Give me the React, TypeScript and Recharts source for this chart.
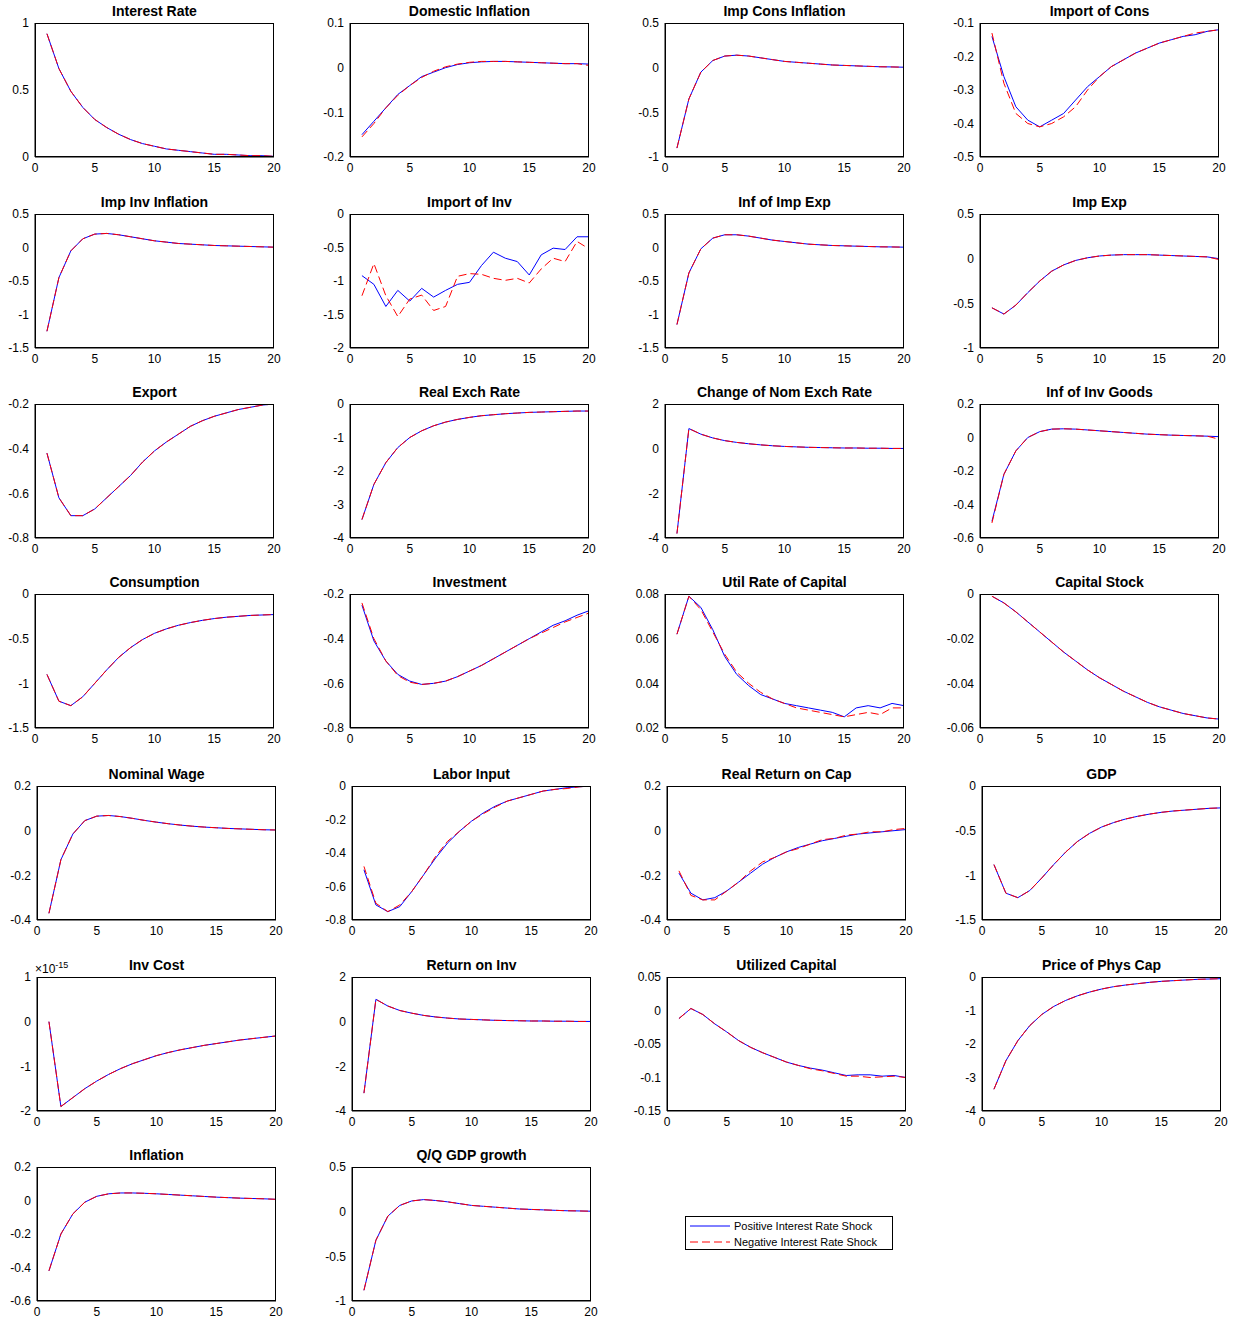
import React from 'react'
import { Line, LineChart, XAxis, YAxis } from 'recharts'

const periods = [1, 2, 3, 4, 5, 6, 7, 8, 9, 10, 11, 12, 13, 14, 15, 16, 17, 18, 19, 20]
const xTicks = [0, 5, 10, 15, 20]

const interestRate = [0.92, 0.66, 0.49, 0.37, 0.28, 0.22, 0.17, 0.13, 0.1, 0.08, 0.06, 0.05, 0.04, 0.03, 0.02, 0.02, 0.015, 0.01, 0.01, 0.005]
const domInfl = [-0.15, -0.12, -0.09, -0.06, -0.04, -0.02, -0.01, 0, 0.007, 0.011, 0.013, 0.014, 0.014, 0.013, 0.012, 0.011, 0.01, 0.009, 0.009, 0.008]
const domInflNeg = [-0.155, -0.125, -0.09, -0.062, -0.04, -0.022, -0.008, 0.002, 0.008, 0.012, 0.014, 0.014, 0.014, 0.013, 0.012, 0.011, 0.01, 0.009, 0.009, 0.005]
const impConsInfl = [-0.9, -0.35, -0.05, 0.08, 0.13, 0.14, 0.13, 0.11, 0.09, 0.07, 0.06, 0.05, 0.04, 0.03, 0.025, 0.02, 0.015, 0.01, 0.008, 0.005]
const importCons = [-0.14, -0.26, -0.35, -0.39, -0.41, -0.39, -0.37, -0.33, -0.29, -0.26, -0.23, -0.21, -0.19, -0.175, -0.16, -0.15, -0.14, -0.135, -0.125, -0.12]
const importConsNeg = [-0.13, -0.28, -0.37, -0.4, -0.41, -0.4, -0.38, -0.35, -0.3, -0.26, -0.23, -0.21, -0.19, -0.175, -0.16, -0.15, -0.14, -0.13, -0.125, -0.12]
const impInvInfl = [-1.25, -0.45, -0.05, 0.13, 0.2, 0.21, 0.19, 0.16, 0.13, 0.1, 0.08, 0.06, 0.05, 0.04, 0.03, 0.025, 0.02, 0.015, 0.01, 0.005]
const importInv = [-0.92, -1.05, -1.38, -1.14, -1.3, -1.11, -1.24, -1.14, -1.05, -1.02, -0.77, -0.57, -0.66, -0.71, -0.91, -0.61, -0.51, -0.53, -0.34, -0.34]
const importInvNeg = [-1.22, -0.74, -1.22, -1.53, -1.27, -1.21, -1.44, -1.38, -0.93, -0.89, -0.9, -0.96, -0.99, -0.96, -1.03, -0.82, -0.66, -0.71, -0.41, -0.52]
const infImpExp = [-1.15, -0.38, -0.02, 0.14, 0.19, 0.19, 0.17, 0.14, 0.11, 0.09, 0.07, 0.05, 0.04, 0.03, 0.025, 0.02, 0.015, 0.01, 0.008, 0.005]
const impExp = [-0.55, -0.62, -0.52, -0.38, -0.25, -0.14, -0.07, -0.02, 0.01, 0.03, 0.04, 0.045, 0.045, 0.045, 0.04, 0.035, 0.03, 0.025, 0.02, 0.0]
const impExpNeg = [-0.55, -0.62, -0.52, -0.38, -0.25, -0.14, -0.07, -0.02, 0.01, 0.03, 0.04, 0.045, 0.045, 0.045, 0.04, 0.035, 0.03, 0.025, 0.02, -0.01]
const exportS = [-0.42, -0.62, -0.7, -0.7, -0.67, -0.62, -0.57, -0.52, -0.46, -0.41, -0.37, -0.335, -0.3, -0.275, -0.255, -0.24, -0.225, -0.215, -0.205, -0.2]
const realExch = [-3.45, -2.4, -1.75, -1.3, -1.0, -0.8, -0.65, -0.54, -0.46, -0.4, -0.35, -0.32, -0.29, -0.27, -0.25, -0.24, -0.23, -0.22, -0.21, -0.21]
const nomExch = [-3.8, 0.9, 0.65, 0.48, 0.36, 0.28, 0.22, 0.17, 0.13, 0.1, 0.08, 0.06, 0.05, 0.04, 0.03, 0.03, 0.02, 0.02, 0.01, 0.01]
const infInvGoods = [-0.5, -0.22, -0.08, 0.0, 0.035, 0.05, 0.052, 0.05, 0.045, 0.04, 0.035, 0.03, 0.025, 0.02, 0.017, 0.014, 0.012, 0.01, 0.008, 0.005]
const infInvGoodsNeg = [-0.51, -0.22, -0.08, 0.0, 0.035, 0.05, 0.052, 0.05, 0.045, 0.04, 0.035, 0.03, 0.025, 0.02, 0.017, 0.014, 0.012, 0.01, 0.008, -0.01]
const consumption = [-0.9, -1.2, -1.25, -1.15, -1.0, -0.85, -0.71, -0.6, -0.51, -0.44, -0.39, -0.35, -0.32, -0.295, -0.275, -0.26, -0.25, -0.24, -0.235, -0.23]
const investment = [-0.25, -0.41, -0.5, -0.56, -0.59, -0.605, -0.6, -0.59, -0.57, -0.545, -0.52, -0.49, -0.46, -0.43, -0.4, -0.37, -0.34, -0.32, -0.295, -0.275]
const investmentNeg = [-0.24, -0.4, -0.5, -0.565, -0.595, -0.605, -0.6, -0.59, -0.57, -0.545, -0.52, -0.49, -0.46, -0.43, -0.4, -0.375, -0.35, -0.325, -0.305, -0.285]
const utilRate = [0.062, 0.079, 0.074, 0.064, 0.052, 0.044, 0.039, 0.035, 0.033, 0.031, 0.03, 0.029, 0.028, 0.027, 0.025, 0.029, 0.03, 0.029, 0.031, 0.03]
const utilRateNeg = [0.062, 0.079, 0.073, 0.063, 0.053, 0.045, 0.04, 0.036, 0.033, 0.031, 0.029, 0.028, 0.027, 0.026, 0.025, 0.026, 0.027, 0.026, 0.029, 0.029]
const capitalStock = [-0.001, -0.004, -0.008, -0.0125, -0.017, -0.0215, -0.026, -0.03, -0.034, -0.0375, -0.0405, -0.0435, -0.046, -0.0485, -0.0505, -0.052, -0.0535, -0.0545, -0.0555, -0.056]
const nominalWage = [-0.37, -0.13, -0.015, 0.045, 0.065, 0.068, 0.063, 0.055, 0.046, 0.038, 0.031, 0.025, 0.02, 0.016, 0.013, 0.01, 0.008, 0.006, 0.004, 0.003]
const laborInput = [-0.5, -0.71, -0.75, -0.72, -0.63, -0.53, -0.43, -0.34, -0.27, -0.21, -0.16, -0.12, -0.09, -0.07, -0.05, -0.03, -0.02, -0.01, -0.005, 0]
const laborInputNeg = [-0.48, -0.7, -0.75, -0.71, -0.63, -0.53, -0.42, -0.33, -0.27, -0.21, -0.165, -0.125, -0.09, -0.07, -0.05, -0.03, -0.02, -0.015, -0.005, 0]
const realReturn = [-0.19, -0.28, -0.31, -0.3, -0.27, -0.23, -0.19, -0.15, -0.12, -0.095, -0.075, -0.06, -0.045, -0.035, -0.025, -0.015, -0.01, -0.005, 0, 0.005]
const realReturnNeg = [-0.18, -0.29, -0.31, -0.31, -0.27, -0.23, -0.18, -0.14, -0.12, -0.095, -0.08, -0.06, -0.04, -0.035, -0.02, -0.015, -0.005, -0.005, 0.005, 0.01]
const gdp = [-0.88, -1.2, -1.25, -1.17, -1.03, -0.88, -0.74, -0.62, -0.53, -0.46, -0.41, -0.37, -0.34, -0.315, -0.295, -0.28, -0.27, -0.26, -0.25, -0.245]
const invCost = [0, -1.9, -1.7, -1.5, -1.33, -1.18, -1.05, -0.94, -0.85, -0.76, -0.69, -0.63, -0.58, -0.53, -0.49, -0.45, -0.41, -0.38, -0.35, -0.32]
const returnInv = [-3.2, 1.0, 0.7, 0.5, 0.38, 0.28, 0.21, 0.16, 0.12, 0.1, 0.08, 0.06, 0.05, 0.04, 0.03, 0.03, 0.02, 0.02, 0.01, 0.01]
const utilCapital = [-0.012, 0.003, -0.006, -0.02, -0.032, -0.045, -0.055, -0.063, -0.07, -0.077, -0.082, -0.086, -0.089, -0.093, -0.097, -0.096, -0.096, -0.098, -0.097, -0.1]
const utilCapitalNeg = [-0.012, 0.003, -0.006, -0.02, -0.032, -0.045, -0.055, -0.063, -0.07, -0.077, -0.082, -0.087, -0.09, -0.094, -0.098, -0.098, -0.1, -0.099, -0.098, -0.1]
const pricePhysCap = [-3.35, -2.5, -1.9, -1.45, -1.12, -0.88, -0.7, -0.56, -0.45, -0.36, -0.29, -0.24, -0.2, -0.16, -0.13, -0.11, -0.09, -0.07, -0.06, -0.05]
const inflation = [-0.42, -0.2, -0.08, -0.01, 0.025, 0.04, 0.045, 0.045, 0.043, 0.04, 0.036, 0.032, 0.028, 0.024, 0.02, 0.017, 0.014, 0.012, 0.01, 0.007]
const qqGdp = [-0.88, -0.32, -0.05, 0.07, 0.12, 0.135, 0.125, 0.11, 0.09, 0.07, 0.06, 0.05, 0.04, 0.03, 0.025, 0.02, 0.015, 0.01, 0.008, 0.005]

type PanelDef = { title: string; pos: number[]; neg?: number[]; yTicks: number[]; exp?: string }

const panels: PanelDef[] = [
  { title: 'Interest Rate', pos: interestRate, yTicks: [0, 0.5, 1] },
  { title: 'Domestic Inflation', pos: domInfl, neg: domInflNeg, yTicks: [-0.2, -0.1, 0, 0.1] },
  { title: 'Imp Cons Inflation', pos: impConsInfl, yTicks: [-1, -0.5, 0, 0.5] },
  { title: 'Import of Cons', pos: importCons, neg: importConsNeg, yTicks: [-0.5, -0.4, -0.3, -0.2, -0.1] },
  { title: 'Imp Inv Inflation', pos: impInvInfl, yTicks: [-1.5, -1, -0.5, 0, 0.5] },
  { title: 'Import of Inv', pos: importInv, neg: importInvNeg, yTicks: [-2, -1.5, -1, -0.5, 0] },
  { title: 'Inf of Imp Exp', pos: infImpExp, yTicks: [-1.5, -1, -0.5, 0, 0.5] },
  { title: 'Imp Exp', pos: impExp, neg: impExpNeg, yTicks: [-1, -0.5, 0, 0.5] },
  { title: 'Export', pos: exportS, yTicks: [-0.8, -0.6, -0.4, -0.2] },
  { title: 'Real Exch Rate', pos: realExch, yTicks: [-4, -3, -2, -1, 0] },
  { title: 'Change of Nom Exch Rate', pos: nomExch, yTicks: [-4, -2, 0, 2] },
  { title: 'Inf of Inv Goods', pos: infInvGoods, neg: infInvGoodsNeg, yTicks: [-0.6, -0.4, -0.2, 0, 0.2] },
  { title: 'Consumption', pos: consumption, yTicks: [-1.5, -1, -0.5, 0] },
  { title: 'Investment', pos: investment, neg: investmentNeg, yTicks: [-0.8, -0.6, -0.4, -0.2] },
  { title: 'Util Rate of Capital', pos: utilRate, neg: utilRateNeg, yTicks: [0.02, 0.04, 0.06, 0.08] },
  { title: 'Capital Stock', pos: capitalStock, yTicks: [-0.06, -0.04, -0.02, 0] },
  { title: 'Nominal Wage', pos: nominalWage, yTicks: [-0.4, -0.2, 0, 0.2] },
  { title: 'Labor Input', pos: laborInput, neg: laborInputNeg, yTicks: [-0.8, -0.6, -0.4, -0.2, 0] },
  { title: 'Real Return on Cap', pos: realReturn, neg: realReturnNeg, yTicks: [-0.4, -0.2, 0, 0.2] },
  { title: 'GDP', pos: gdp, yTicks: [-1.5, -1, -0.5, 0] },
  { title: 'Inv Cost', pos: invCost, yTicks: [-2, -1, 0, 1], exp: '-15' },
  { title: 'Return on Inv', pos: returnInv, yTicks: [-4, -2, 0, 2] },
  { title: 'Utilized Capital', pos: utilCapital, neg: utilCapitalNeg, yTicks: [-0.15, -0.1, -0.05, 0, 0.05] },
  { title: 'Price of Phys Cap', pos: pricePhysCap, yTicks: [-4, -3, -2, -1, 0] },
  { title: 'Inflation', pos: inflation, yTicks: [-0.6, -0.4, -0.2, 0, 0.2] },
  { title: 'Q/Q GDP growth', pos: qqGdp, yTicks: [-1, -0.5, 0, 0.5] },
]

const colLeft = [35, 350, 665, 980]
const rowTop = [23, 214, 404, 594, 786, 977, 1167]
const PW = 239
const PH = 134
const YW = 40
const MT = 8
const font = '"Liberation Sans", Arial, sans-serif'

const Panel = ({ def, left, top }: { def: PanelDef; left: number; top: number }) => {
  const neg = def.neg ?? def.pos
  const data = periods.map((p, i) => ({ x: p, pos: def.pos[i], neg: neg[i] }))
  const t = def.yTicks
  return (
    <>
      <div style={{ position: 'absolute', left, top: top - 20, width: PW, textAlign: 'center', fontWeight: 'bold', fontSize: 14, fontFamily: font }}>
        {def.title}
      </div>
      {def.exp && (
        <div style={{ position: 'absolute', left: left - 2, top: top - 17, fontSize: 12, fontFamily: font }}>
          ×10<sup style={{ fontSize: 9 }}>{def.exp}</sup>
        </div>
      )}
      <div style={{ position: 'absolute', left: left - YW, top: top - MT }}>
        <LineChart width={PW + YW + 10} height={PH + 22 + MT} data={data} margin={{ top: MT, right: 10, bottom: 0, left: 0 }}>
          <XAxis dataKey="x" type="number" domain={[0, 20]} ticks={xTicks} height={22} tickSize={0} tickMargin={6}
            axisLine={{ stroke: '#000' }} tick={{ fill: '#000', fontSize: 12, fontFamily: font }} interval={0} />
          <YAxis type="number" domain={[t[0], t[t.length - 1]]} ticks={t} width={YW} tickSize={0} tickMargin={6}
            axisLine={{ stroke: '#000' }} tick={{ fill: '#000', fontSize: 12, fontFamily: font }} interval={0} allowDataOverflow />
          <Line dataKey="pos" stroke="#0000ff" strokeWidth={1} dot={false} isAnimationActive={false} />
          <Line dataKey="neg" stroke="#ff0000" strokeWidth={1} strokeDasharray="8 4" dot={false} isAnimationActive={false} />
        </LineChart>
      </div>
      <div style={{ position: 'absolute', left, top, width: PW, height: PH, border: '1px solid #000', boxSizing: 'border-box', pointerEvents: 'none' }} />
    </>
  )
}

export default function App() {
  return (
    <div style={{ position: 'absolute', left: 0, top: 0, width: 1239, height: 1325, background: '#fff' }}>
      {panels.map((def, i) => {
        const r = Math.floor(i / 4)
        const c = i % 4
        const shift = r >= 4 ? 2 : 0
        return <Panel key={def.title} def={def} left={colLeft[c] + shift} top={rowTop[r]} />
      })}
      <div style={{ position: 'absolute', left: 685, top: 1216, width: 208, height: 34, border: '1px solid #000', boxSizing: 'border-box', fontFamily: font, fontSize: 11, background: '#fff' }}>
        <div style={{ display: 'flex', alignItems: 'center', height: 16, marginTop: 1 }}>
          <svg width={44} height={10} style={{ marginLeft: 4 }}><line x1={0} y1={5} x2={40} y2={5} stroke="#0000ff" /></svg>
          <span>Positive Interest Rate Shock</span>
        </div>
        <div style={{ display: 'flex', alignItems: 'center', height: 16 }}>
          <svg width={44} height={10} style={{ marginLeft: 4 }}><line x1={0} y1={5} x2={40} y2={5} stroke="#ff0000" strokeDasharray="8 4" /></svg>
          <span>Negative Interest Rate Shock</span>
        </div>
      </div>
    </div>
  )
}
